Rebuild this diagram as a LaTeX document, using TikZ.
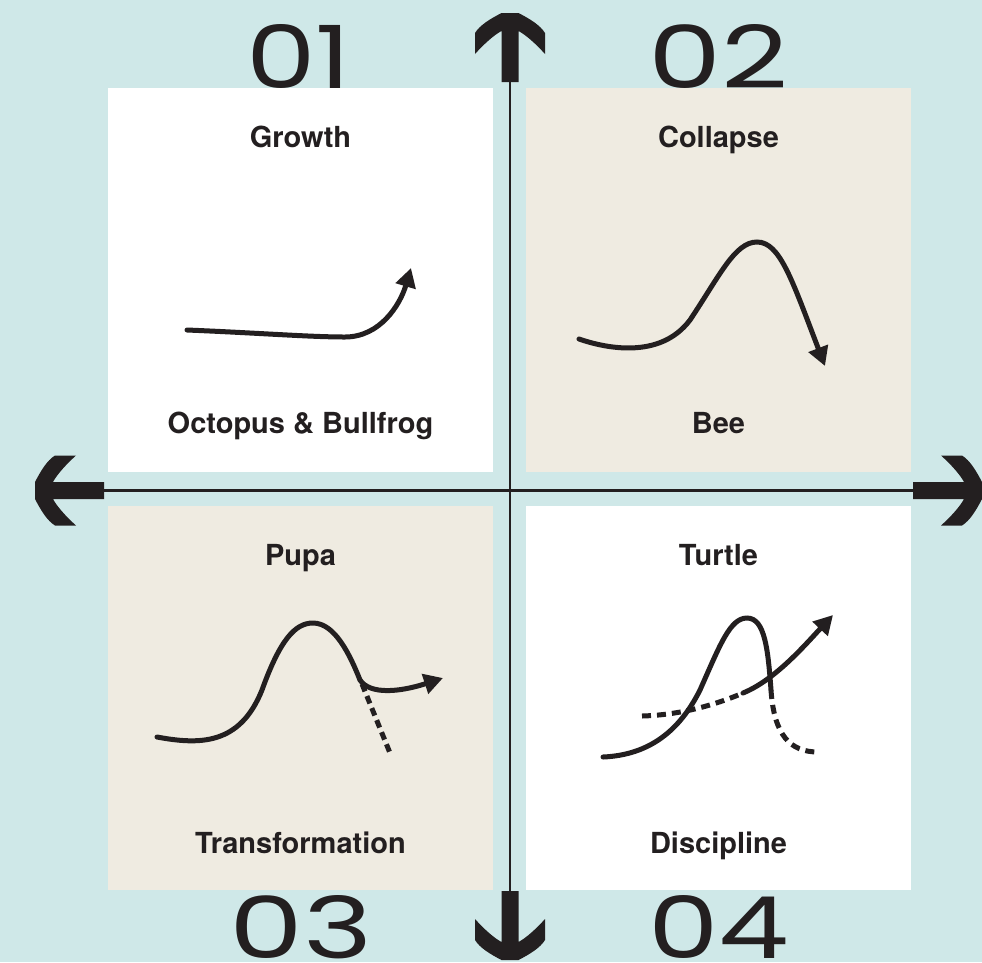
\documentclass[tikz,border=0pt]{standalone}
\usepackage{fontspec}
\usepackage{graphicx}
\setmainfont{TeX Gyre Heros}
\newfontfamily\numfont{Poppins}
\usetikzlibrary{arrows.meta}
\definecolor{bgcyan}{HTML}{CFE8E8}
\definecolor{paper}{HTML}{EFEBE1}
\definecolor{ink}{HTML}{231F20}
\tikzset{
  trend/.style={draw=ink,line width=5pt,line cap=round},
  dashtrend/.style={trend,line cap=butt,dash pattern=on 8pt off 5pt},
  tip/.style={-{Triangle[length=19pt,width=20pt]}},
  cardtext/.style={text=ink,font=\fontsize{29}{30}\selectfont\bfseries,anchor=base,inner sep=0pt},
  bignum/.style={text=ink,anchor=north west,inner sep=0pt},
  pics/axisarrow/.style={code={
    \fill[ink] (-8.5,0) -- (8.5,0) .. controls (20,6) and (30,12) .. (35,20) -- (35,41)
      .. controls (26,31) and (16,22) .. (8.5,18) -- (8.5,69) -- (-8.5,69) -- (-8.5,18)
      .. controls (-16,22) and (-26,31) .. (-35,41) -- (-35,20)
      .. controls (-30,12) and (-20,6) .. (-8.5,0) -- cycle;
  }}
}
\begin{document}
\begin{tikzpicture}[x=1pt,y=-1pt]
 \fill[bgcyan] (0,0) rectangle (982,962);
 \useasboundingbox (0,0) rectangle (982,962);
 % quadrant numbers, partly under the cards
 \node[bignum] (n01) at (246,24) {\resizebox{105pt}{64pt}{\numfont 01}};
 \node[bignum] (n02) at (648,24) {\resizebox{140pt}{64pt}{\numfont 02}};
 \node[bignum] (n03) at (229,895) {\resizebox{143pt}{63pt}{\numfont 03}};
 \node[bignum] (n04) at (648,895) {\resizebox{141pt}{63pt}{\numfont 04}};
 % cards
 \fill[white] (108,88) rectangle (493,472);
 \fill[paper] (526,88) rectangle (911,472);
 \fill[paper] (108,506) rectangle (493,890);
 \fill[white] (526,506) rectangle (911,890);
 % axes
 \draw[ink,line width=2.6pt] (510,82) -- (510,891);
 \draw[ink,line width=2.6pt] (104,490.5) -- (913,490.5);
 \pic at (510,13) {axisarrow};
 \pic[rotate=180] at (510,960) {axisarrow};
 \pic[rotate=90] at (35,490.5) {axisarrow};
 \pic[rotate=-90] at (982,490.5) {axisarrow};
 % texts
 \node[cardtext] (growth) at (300.5,147) {Growth};
 \node[cardtext] (octopus) at (300.5,433) {Octopus \& Bullfrog};
 \node[cardtext] (collapse) at (718.5,147) {Collapse};
 \node[cardtext] (bee) at (718.5,433) {Bee};
 \node[cardtext] (pupa) at (300.5,565) {Pupa};
 \node[cardtext] (transf) at (300.5,853) {Transformation};
 \node[cardtext] (turtle) at (718.5,565) {Turtle};
 \node[cardtext] (discipline) at (718.5,853) {Discipline};
 % 01 growth
 \draw[trend,tip] (187,330) .. controls (260,333) and (310,337) .. (345,337)
   .. controls (380,337) and (400,305) .. (411,268);
 % 02 collapse
 \draw[trend,tip] (579,339) .. controls (605,348) and (660,360) .. (690,320)
   .. controls (720,275) and (735,242) .. (757,242)
   .. controls (780,242) and (792,280) .. (825,366);
 % 03 pupa
 \draw[trend] (157,737) .. controls (200,745) and (240,745) .. (262,690)
   .. controls (280,640) and (295,623) .. (313,623)
   .. controls (335,623) and (350,655) .. (360,680);
 \draw[trend,tip] (360,680) .. controls (370,695) and (400,692) .. (443,678);
 \draw[dashtrend] (362,684) -- (390,753);
 % 04 turtle
 \draw[trend] (603,757) .. controls (650,755) and (680,730) .. (700,690)
   .. controls (720,645) and (730,618) .. (747,618)
   .. controls (765,618) and (768,650) .. (771,690);
 \draw[dashtrend,dash pattern=on 9pt off 6pt] (771,690) .. controls (774,735) and (790,752) .. (818,752);
 \draw[dashtrend,dash pattern=on 9pt off 6pt] (642,716) .. controls (680,715) and (715,705) .. (743,693);
 \draw[trend,tip] (743,693) .. controls (775,680) and (805,645) .. (833,615);
\end{tikzpicture}
\end{document}
